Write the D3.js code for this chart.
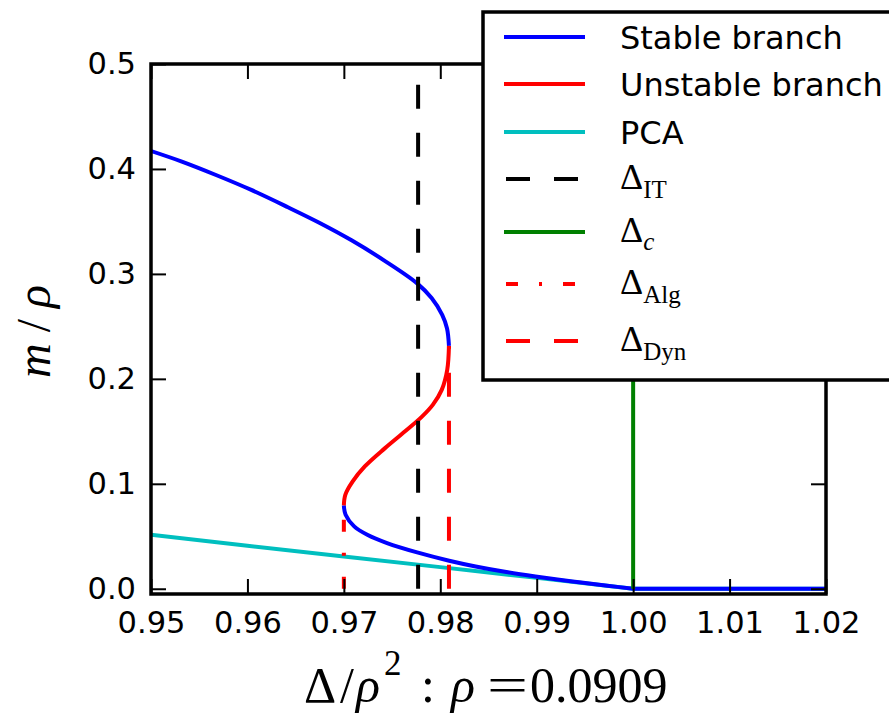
<!DOCTYPE html>
<html>
<head>
<meta charset="utf-8">
<script src="https://cdn.jsdelivr.net/npm/d3@7"></script>
<style>
	body { margin: 0; background: #fff; }
	svg { display: block; }
	.tick text { font-family: "DejaVu Sans", sans-serif; font-size: 30.5px; fill: #000; }
	.tick line { stroke: #000; stroke-width: 2; }
	.math { font-family: "Liberation Serif", "DejaVu Serif", serif; fill: #000; }
	.legendText { font-family: "DejaVu Sans", sans-serif; font-size: 32px; fill: #000; }
</style>
</head>
<body>
<svg id="chart" width="889" height="718"></svg>
<script>
// curve points, [delta/rho^2, m/rho]
var stableUpper = [
	[0.9497, 0.418], [0.9532, 0.407], [0.9568, 0.394], [0.9604, 0.380],
	[0.9642, 0.3635], [0.9674, 0.349], [0.9708, 0.332], [0.9742, 0.3127],
	[0.9776, 0.291], [0.9791, 0.277], [0.9802, 0.261], [0.9807, 0.248],
	[0.9809, 0.2314]
];
var unstable = [
	[0.9809, 0.2314], [0.98072, 0.2086], [0.98015, 0.1895], [0.97922, 0.1752],
	[0.9781, 0.164], [0.97635, 0.150], [0.97427, 0.134], [0.97217, 0.1165],
	[0.9709, 0.102], [0.97015, 0.0895], [0.9700, 0.0794]
];
var stableLower = [
	[0.9700, 0.0794], [0.97018, 0.0705], [0.97107, 0.0594], [0.97243, 0.0514],
	[0.97448, 0.0435], [0.9776, 0.0346], [0.98092, 0.0267], [0.98367, 0.0212],
	[0.98685, 0.0159], [0.98987, 0.0117], [0.99372, 0.0070], [0.99733, 0.0029],
	[1.0000, 0.0]
];
var stableFlat = [[1.0000, 0.0], [1.0200, 0.0]];
var pca = [
	[0.95, 0.0514], [0.96, 0.0410], [0.97, 0.0308], [0.98, 0.0206],
	[0.99, 0.0104], [1.00, 0.0], [1.02, 0.0]
];

// vertical threshold lines: x position and top of the line
var thresholdNames = ["IT", "c", "Alg", "Dyn"];
var thresholdX = [0.9777, 1.0, 0.9700, 0.9809];
var thresholdTop = [0.5, 0.5, 0.0794, 0.2314];

var xTicks = [0.95, 0.96, 0.97, 0.98, 0.99, 1.00, 1.01, 1.02];
var xTickLabels = ["0.95", "0.96", "0.97", "0.98", "0.99", "1.00", "1.01", "1.02"];
var yTicks = [0.0, 0.1, 0.2, 0.3, 0.4, 0.5];
var yTickLabels = ["0.0", "0.1", "0.2", "0.3", "0.4", "0.5"];

var legendLabels = ["Stable branch", "Unstable branch", "PCA"];
var legendSubs = ["IT", "c", "Alg", "Dyn"];

var PLOT = {left: 151, right: 826, top: 64, bottom: 594};
var TICK_LEN = 15;
var LINE_W = 4;

var svg = d3.select("#chart");

var x = d3.scaleLinear().domain([0.95, 1.02]).range([PLOT.left, PLOT.right]);
var y = d3.scaleLinear().domain([-0.005, 0.5]).range([PLOT.bottom, PLOT.top]);

svg.append("defs").append("clipPath").attr("id", "plotClip")
	.append("rect")
	.attr("x", PLOT.left).attr("y", PLOT.top)
	.attr("width", PLOT.right - PLOT.left).attr("height", PLOT.bottom - PLOT.top);

var line = d3.line()
	.x(function(d) { return x(d[0]); })
	.y(function(d) { return y(d[1]); });
var smooth = d3.line()
	.x(function(d) { return x(d[0]); })
	.y(function(d) { return y(d[1]); })
	.curve(d3.curveCatmullRom.alpha(0.5));

var plotArea = svg.append("g").attr("clip-path", "url(#plotClip)");

function addPath(data, gen, color) {
	return plotArea.append("path")
		.datum(data)
		.attr("d", gen)
		.attr("fill", "none")
		.attr("stroke", color)
		.attr("stroke-width", LINE_W)
		.attr("stroke-linejoin", "round");
}

addPath(pca, line, "#00bfbf");
addPath(stableUpper, smooth, "#0000ff");
addPath(stableLower, smooth, "#0000ff");
addPath(stableFlat, line, "#0000ff");
addPath(unstable, smooth, "#ff0000");

var thresholdStyle = {
	IT: {color: "#000000", dash: "24,24"},
	c: {color: "#008000", dash: null},
	Alg: {color: "#ff0000", dash: "12,21,3,21"},
	Dyn: {color: "#ff0000", dash: "24,24"}
};

thresholdNames.forEach(function(name, i) {
	var st = thresholdStyle[name];
	addPath([[thresholdX[i], 0], [thresholdX[i], thresholdTop[i]]], line, st.color)
		.attr("stroke-dasharray", st.dash);
});

// axes with inward ticks on all four sides
svg.append("g")
	.attr("transform", "translate(0," + PLOT.bottom + ")")
	.call(d3.axisBottom(x).tickValues(xTicks).tickSize(-TICK_LEN).tickPadding(17)
		.tickFormat(function(d, i) { return xTickLabels[i]; }));
svg.append("g")
	.attr("transform", "translate(0," + PLOT.top + ")")
	.call(d3.axisTop(x).tickValues(xTicks).tickSize(-TICK_LEN).tickFormat(""));
svg.append("g")
	.attr("transform", "translate(" + PLOT.left + ",0)")
	.call(d3.axisLeft(y).tickValues(yTicks).tickSize(-TICK_LEN).tickPadding(15)
		.tickFormat(function(d, i) { return yTickLabels[i]; }));
svg.append("g")
	.attr("transform", "translate(" + PLOT.right + ",0)")
	.call(d3.axisRight(y).tickValues(yTicks).tickSize(-TICK_LEN).tickFormat(""));
svg.selectAll(".domain").remove();

svg.append("rect")
	.attr("x", PLOT.left).attr("y", PLOT.top)
	.attr("width", PLOT.right - PLOT.left).attr("height", PLOT.bottom - PLOT.top)
	.attr("fill", "none").attr("stroke", "#000").attr("stroke-width", 3.5);

// axis labels, laid out piece by piece like mathtext
var xLabel = svg.append("text").attr("class", "math")
	.attr("y", 702)
	.attr("font-size", 50);
xLabel.append("tspan").attr("x", 304).text("\u0394");
xLabel.append("tspan").attr("x", 340).text("/");
xLabel.append("tspan").attr("x", 356).attr("font-style", "italic").text("\u03c1");
xLabel.append("tspan").attr("x", 384).attr("y", 675).attr("font-size", 35).text("2");
xLabel.append("tspan").attr("x", 421).attr("y", 702).text(":");
xLabel.append("tspan").attr("x", 451).attr("font-style", "italic").text("\u03c1");
xLabel.append("tspan").attr("x", 487).attr("textLength", 41).attr("lengthAdjust", "spacingAndGlyphs").text("=");
xLabel.append("tspan").attr("x", 530).text("0.0909");

var yLabel = svg.append("text").attr("class", "math")
	.attr("transform", "translate(50,378) rotate(-90)")
	.attr("font-size", 48)
	.attr("textLength", 93).attr("lengthAdjust", "spacing");
yLabel.append("tspan").attr("font-style", "italic").text("m");
yLabel.append("tspan").text("/");
yLabel.append("tspan").attr("font-style", "italic").text("\u03c1");

// legend
var legend = svg.append("g");
legend.append("rect")
	.attr("x", 483).attr("y", 12)
	.attr("width", 440).attr("height", 368)
	.attr("fill", "#fff").attr("stroke", "#000").attr("stroke-width", 3.5);

var legendRows = [37, 84, 132, 179, 232, 284, 341];
var legendColors = ["#0000ff", "#ff0000", "#00bfbf", "#000000", "#008000", "#ff0000", "#ff0000"];
var legendDash = [null, null, null, "24,24", null, "12,21,3,21", "24,24"];

legendRows.forEach(function(ry, i) {
	legend.append("line")
		.attr("x1", legendDash[i] ? 506 : 504).attr("x2", 585)
		.attr("y1", ry).attr("y2", ry)
		.attr("stroke", legendColors[i])
		.attr("stroke-width", LINE_W)
		.attr("stroke-dasharray", legendDash[i]);

	if (i < legendLabels.length) {
		legend.append("text").attr("class", "legendText")
			.attr("x", 620).attr("y", ry + 12)
			.text(legendLabels[i]);
	} else {
		var sub = legendSubs[i - legendLabels.length];
		var t = legend.append("text").attr("class", "math")
			.attr("x", 620).attr("y", ry + 10);
		t.append("tspan").attr("font-size", 36).text("\u0394");
		t.append("tspan")
			.attr("font-size", 25)
			.attr("font-style", sub === "c" ? "italic" : null)
			.attr("dy", sub === "c" ? 8 : 9)
			.text(sub);
	}
});
</script>
</body>
</html>
